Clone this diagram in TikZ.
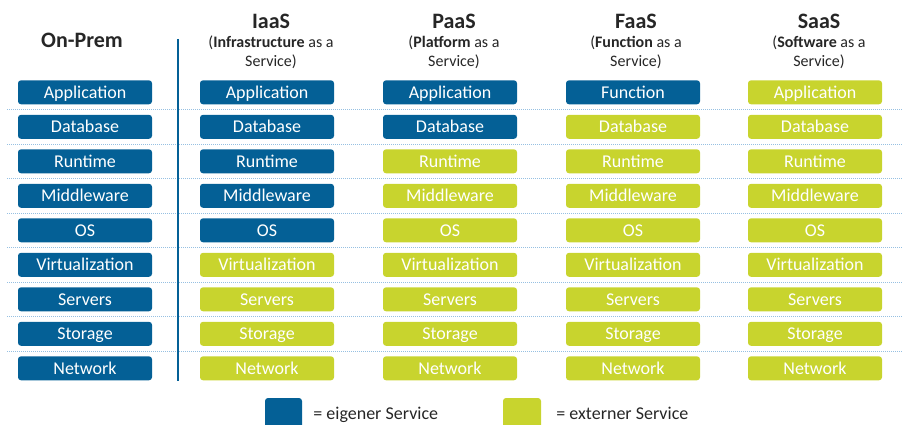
\documentclass[tikz,border=0pt]{standalone}
\usepackage{fontspec}
\setmainfont{Carlito}
\usetikzlibrary{positioning}
\definecolor{ownblue}{RGB}{4,96,150}
\definecolor{extgreen}{RGB}{200,212,46}
\definecolor{sepblue}{RGB}{150,192,226}
\definecolor{txtgray}{RGB}{38,38,38}
\tikzset{
	svcbox/.style = {rounded corners = 3pt, minimum width = 134pt, minimum height = 24pt, inner sep = 0pt, text = white, text height = 11.6pt, text depth = 0pt, font = \fontsize{18}{20}\selectfont},
	title/.style = {inner sep = 0pt, text = txtgray, text height = 14.2pt, text depth = 0pt, font = \fontsize{22}{24}\selectfont\bfseries},
	subtitle/.style = {inner sep = 0pt, anchor = base, text = txtgray, font = \fontsize{16}{19}\selectfont},
	keytext/.style = {inner sep = 0pt, text = txtgray, text height = 11.6pt, text depth = 0pt, font = \fontsize{18}{20}\selectfont},
	sepline/.style = {sepblue, line width = 1pt, densely dotted}
}
\begin{document}
\begin{tikzpicture}[x = 1pt, y = -1pt]
	\clip (0,0) rectangle (902,425);
	
	\foreach \y in {1,...,8}
		\draw[sepline] (7,{92.3 + (\y - 0.5)*34.5}) -- (902,{92.3 + (\y - 0.5)*34.5});
	
	\draw[ownblue, line width = 2.5pt] (178,39) -- (178,381);
	
	\node[title] (onprem-head) at (82,40.5) {On-Prem};
	\foreach \col/\hx/\short/\what in {iaas/271/IaaS/Infrastructure, paas/454/PaaS/Platform, faas/636/FaaS/Function, saas/819/SaaS/Software} {
		\node[title] (\col-head) at (\hx,21.2) {\short};
		\node[subtitle] (\col-sub) at (\hx,47.2) {(\textbf{\what} as a};
		\node[subtitle] (\col-sub2) at (\hx,66.7) {Service)};
	}
	
	\foreach \col/\cx/\own/\first in {onprem/85/9/Application, iaas/267/5/Application, paas/450/2/Application, faas/633/1/Function, saas/815/0/Application}
		\foreach \lbl [count = \r] in {\first, Database, Runtime, Middleware, OS, Virtualization, Servers, Storage, Network} {
			\ifnum\r>\own\relax \def\boxcol{extgreen}\else \def\boxcol{ownblue}\fi
			\node[svcbox, fill = \boxcol] (\col-\r) at (\cx,{92.3 + (\r - 1)*34.5}) {\lbl};
		}
	
	\node[svcbox, fill = ownblue, minimum width = 37pt, minimum height = 32pt] (own-key) at (283.5,414) {};
	\node[keytext, right = 11pt of own-key] (own-text) {= eigener Service};
	\node[svcbox, fill = extgreen, minimum width = 38pt, minimum height = 32pt] (ext-key) at (522,414) {};
	\node[keytext, right = 15pt of ext-key] (ext-text) {= externer Service};
\end{tikzpicture}
\end{document}
